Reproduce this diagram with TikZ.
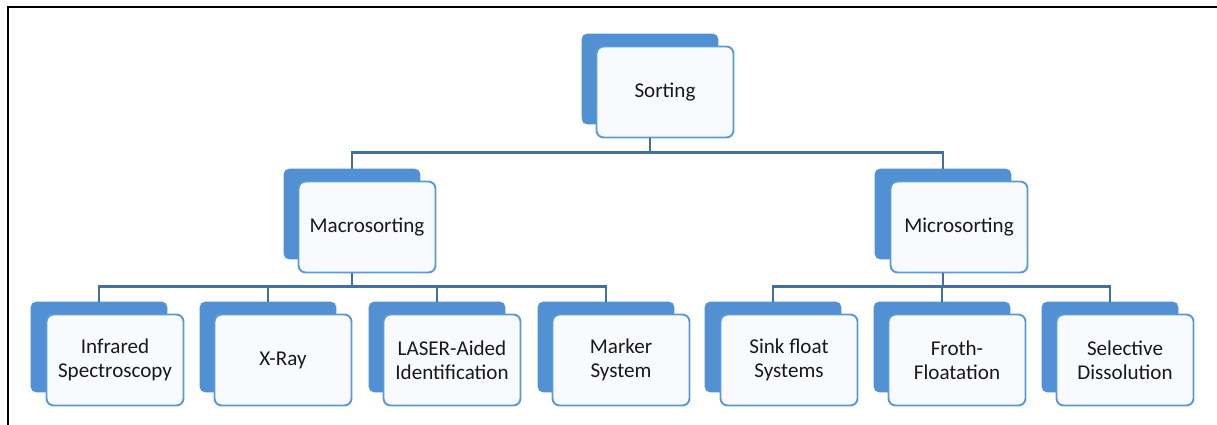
\documentclass[tikz,border=0pt]{standalone}
\usepackage{fontspec}
\setmainfont{Carlito}
\usepackage{tikz}
\definecolor{backblue}{HTML}{5090D3}
\definecolor{edgeblue}{HTML}{5B9BD5}
\definecolor{linkblue}{HTML}{41719C}
\definecolor{frontfill}{HTML}{F8FAFD}

\begin{document}
\begin{tikzpicture}[x=0.02cm, y=-0.02cm,
	backbox/.style={draw=backblue, fill=backblue, rounded corners=3pt, minimum width=2.72cm, minimum height=1.8cm, inner sep=0pt},
	frontbox/.style={draw=edgeblue, line width=1.1pt, fill=frontfill, rounded corners=4pt, minimum width=2.74cm, minimum height=1.82cm, inner sep=0pt, align=center, text=black!90, font=\fontsize{12}{13.5}\selectfont},
	link/.style={draw=linkblue, line width=1.2pt}]
	\useasboundingbox (0,0) rectangle (1217,425);
	\draw[line width=1.4pt] (8,425) -- (8,7) -- (1217,7);

	\node[backbox] (sortb) at (650,79) {};
	\node[frontbox] (sort) at (665,92) {Sorting};

	\node[backbox] (macrob) at (352,214) {};
	\node[frontbox] (macro) at (367,227) {Macrosorting};
	\node[backbox] (microb) at (943,214) {};
	\node[frontbox] (micro) at (959,227) {Microsorting};

	\node[backbox] (irb) at (99,347) {};
	\node[frontbox] (ir) at (115,360) {Infrared\\Spectroscopy};
	\node[backbox] (xrayb) at (268,347) {};
	\node[frontbox] (xray) at (283,360) {X-Ray};
	\node[backbox] (laserb) at (437,347) {};
	\node[frontbox] (laser) at (452,360) {LASER-Aided\\Identification};
	\node[backbox] (markerb) at (606,347) {};
	\node[frontbox] (marker) at (621,360) {Marker\\System};
	\node[backbox] (sinkb) at (773,347) {};
	\node[frontbox] (sink) at (789,360) {Sink float\\Systems};
	\node[backbox] (frothb) at (942,347) {};
	\node[frontbox] (froth) at (957,360) {Froth-\\Floatation};
	\node[backbox] (dissolb) at (1110,347) {};
	\node[frontbox] (dissol) at (1125,360) {Selective\\Dissolution};

	\draw[link] (sortb |- sort.south) -- ++(0,14) -| (macrob.north);
	\draw[link] (sortb |- sort.south) -- ++(0,14) -| (microb.north);

	\draw[link] (macrob |- macro.south) -- ++(0,13) -| (irb.north);
	\draw[link] (macrob |- macro.south) -- ++(0,13) -| (xrayb.north);
	\draw[link] (macrob |- macro.south) -- ++(0,13) -| (laserb.north);
	\draw[link] (macrob |- macro.south) -- ++(0,13) -| (markerb.north);

	\draw[link] (microb |- micro.south) -- ++(0,13) -| (sinkb.north);
	\draw[link] (microb |- micro.south) -- ++(0,13) -| (frothb.north);
	\draw[link] (microb |- micro.south) -- ++(0,13) -| (dissolb.north);
\end{tikzpicture}
\end{document}
